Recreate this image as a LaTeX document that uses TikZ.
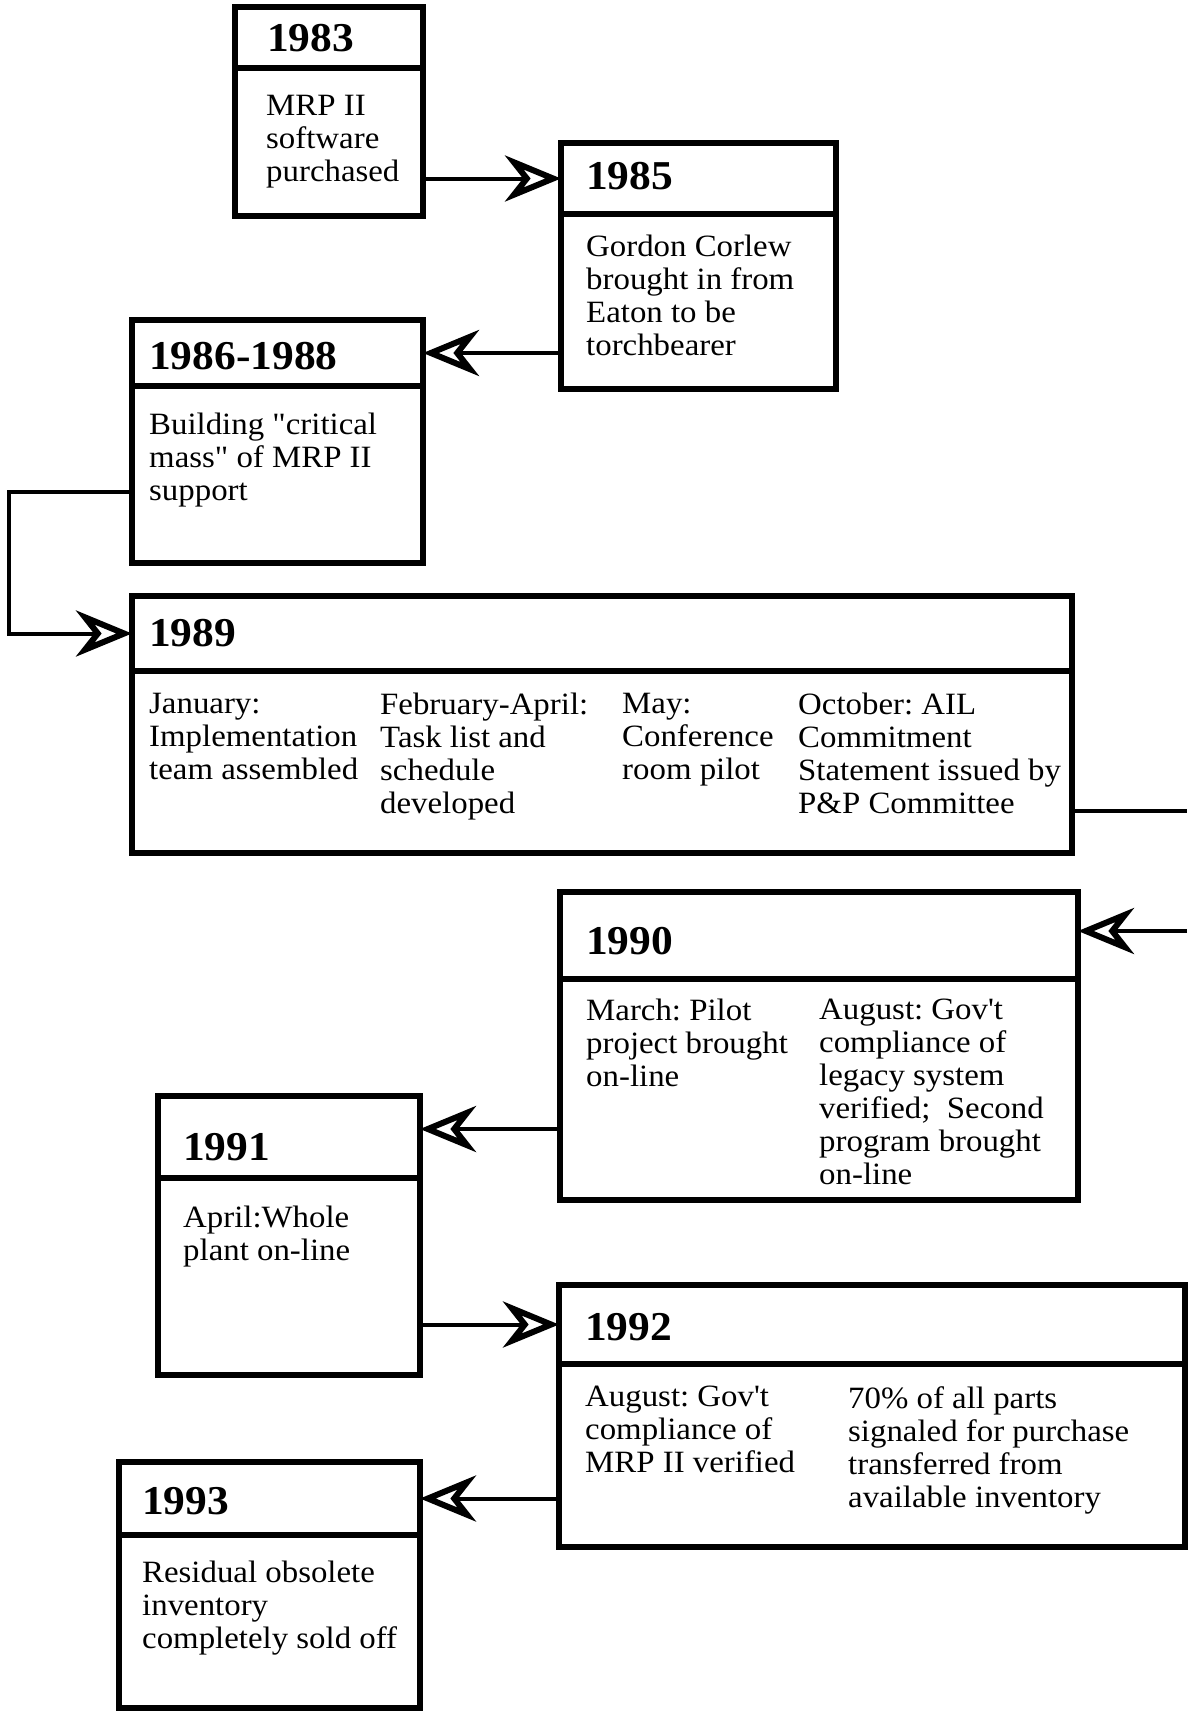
\documentclass[tikz,border=0pt]{standalone}
\usepackage{fontspec}
\setmainfont{Liberation Serif}[Ligatures=TeXOff, FakeStretch=1.06]
\usetikzlibrary{arrows.meta}
\frenchspacing

\tikzset{
	cell/.style={draw, line width=5.5pt, anchor=north west, inner sep=0pt, outer sep=0pt},
	yr/.style={font=\fontsize{41}{41}\selectfont\bfseries, anchor=base west, inner sep=0pt},
	note/.style={font=\fontsize{31}{33}\selectfont, align=left, anchor=north west, inner sep=0pt},
	wire/.style={line width=4pt},
	link/.style={line width=4pt, -{Stealth[open, length=56pt, width=46pt, inset=18pt, line width=6pt]}},
}

\begin{document}
\begin{tikzpicture}[x=1pt, y=-1pt]
			%%%%% START %%%%%
			\useasboundingbox (0,0) rectangle (1187,1711);
			
			% 1983
			\node[cell, minimum width=188pt, minimum height=61pt] (h83) at (235,7) {};
			\node[cell, minimum width=188pt, minimum height=148pt] (b83) at (235,68) {};
			\node[yr] (y83) at (267,51) {1983};
			\node[note] (n83) at (266,95) {MRP II\\software\\purchased};
			
			% 1985
			\node[cell, minimum width=275pt, minimum height=71pt] (h85) at (561,143) {};
			\node[cell, minimum width=275pt, minimum height=175pt] (b85) at (561,214) {};
			\node[yr] (y85) at (586,189) {1985};
			\node[note] (n85) at (586,235) {Gordon Corlew\\brought in from\\Eaton to be\\torchbearer};
			
			% 1986-1988
			\node[cell, minimum width=291pt, minimum height=66pt] (h86) at (132,320) {};
			\node[cell, minimum width=291pt, minimum height=177pt] (b86) at (132,386) {};
			\node[yr] (y86) at (149,369) {1986-1988};
			\node[note] (n86) at (149,413) {Building "critical\\mass" of MRP II\\support};
			
			% 1989
			\node[cell, minimum width=940pt, minimum height=75pt] (h89) at (132,596) {};
			\node[cell, minimum width=940pt, minimum height=182pt] (b89) at (132,671) {};
			\node[yr] (y89) at (149,646) {1989};
			\node[note] (n89a) at (149,693) {January:\\Implementation\\team assembled};
			\node[note] (n89b) at (380,693) {February-April:\\Task list and\\schedule\\developed};
			\node[note] (n89c) at (622,693) {May:\\Conference\\room pilot};
			\node[note] (n89d) at (798,693) {October: AIL\\Commitment\\Statement issued by\\P\&P Committee};
			
			% 1990
			\node[cell, minimum width=518pt, minimum height=87pt] (h90) at (560,892) {};
			\node[cell, minimum width=518pt, minimum height=221pt] (b90) at (560,979) {};
			\node[yr] (y90) at (586,954) {1990};
			\node[note] (n90a) at (586,999) {March: Pilot\\project brought\\on-line};
			\node[note] (n90b) at (819,999) {August: Gov't\\compliance of\\legacy system\\verified;\ \ Second\\program brought\\on-line};
			
			% 1991
			\node[cell, minimum width=262pt, minimum height=82pt] (h91) at (158,1096) {};
			\node[cell, minimum width=262pt, minimum height=197pt] (b91) at (158,1178) {};
			\node[yr] (y91) at (183,1160) {1991};
			\node[note] (n91) at (183,1206) {April:Whole\\plant on-line};
			
			% 1992
			\node[cell, minimum width=626pt, minimum height=79pt] (h92) at (559,1285) {};
			\node[cell, minimum width=626pt, minimum height=183pt] (b92) at (559,1364) {};
			\node[yr] (y92) at (585,1340) {1992};
			\node[note] (n92a) at (585,1386) {August: Gov't\\compliance of\\MRP II verified};
			\node[note] (n92b) at (848,1386) {70\% of all parts\\signaled for purchase\\transferred from\\available inventory};
			
			% 1993
			\node[cell, minimum width=301pt, minimum height=73pt] (h93) at (119,1462) {};
			\node[cell, minimum width=301pt, minimum height=173pt] (b93) at (119,1535) {};
			\node[yr] (y93) at (142,1514) {1993};
			\node[note] (n93) at (142,1561) {Residual obsolete\\inventory\\completely sold off};
			
			% connectors
			\coordinate (bend) at (9,492);
			\coordinate (out89) at (1187,811);
			\coordinate (in90) at (1187,931);
			\coordinate (in91) at ([yshift=8pt]h91.east);
			
			\draw[link] (b83.east |- h85.west) -- (h85.west);
			\draw[link] (b85.west |- h86.east) -- (h86.east);
			\draw[link] (b86.west |- bend) -- (bend) |- (h89.west);
			\draw[wire] (b89.east |- out89) -- (out89);
			\draw[link] (in90) -- (h90.east |- in90);
			\draw[link] (b90.west |- in91) -- (in91);
			\draw[link] (b91.east |- h92.west) -- (h92.west);
			\draw[link] (b92.west |- h93.east) -- (h93.east);
			
			%%%%% END %%%%%
\end{tikzpicture}
\end{document}
